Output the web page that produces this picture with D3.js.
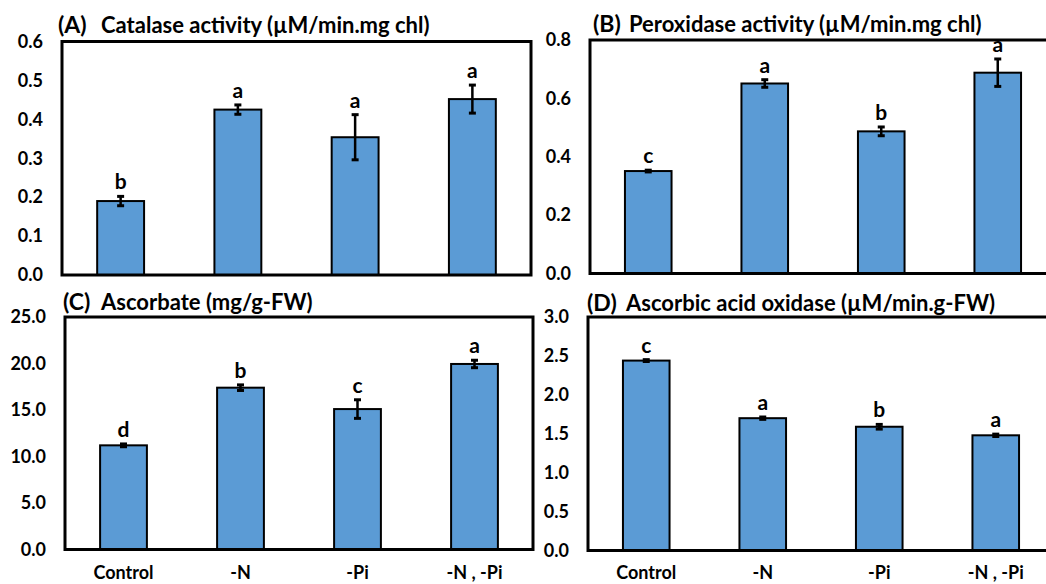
<!DOCTYPE html>
<html><head><meta charset="utf-8">
<script src="https://cdn.jsdelivr.net/npm/d3@7"></script>
<style>body{margin:0;background:#fff}svg{display:block}text{font-family:Lato,"Open Sans",sans-serif;font-weight:bold;fill:#000}</style>
</head><body><svg id="c" width="1046" height="584"></svg>
<script>
const categories = ["Control", "-N", "-Pi", "-N , -Pi"];

const catalase = [0.19, 0.425, 0.354, 0.452];
const catalaseErr = [0.012, 0.012, 0.058, 0.036];
const catalaseLetters = ["b", "a", "a", "a"];
const catalaseTicks = [0, 0.1, 0.2, 0.3, 0.4, 0.5, 0.6];

const peroxidase = [0.351, 0.651, 0.487, 0.688];
const peroxidaseErr = [0.003, 0.013, 0.015, 0.047];
const peroxidaseLetters = ["c", "a", "b", "a"];
const peroxidaseTicks = [0, 0.2, 0.4, 0.6, 0.8];

const ascorbate = [11.2, 17.4, 15.1, 19.95];
const ascorbateErr = [0.15, 0.3, 1.0, 0.4];
const ascorbateLetters = ["d", "b", "c", "a"];
const ascorbateTicks = [0, 5, 10, 15, 20, 25];

const aao = [2.44, 1.70, 1.59, 1.48];
const aaoErr = [0.012, 0.015, 0.03, 0.015];
const aaoLetters = ["c", "a", "b", "a"];
const aaoTicks = [0, 0.5, 1, 1.5, 2, 2.5, 3];

const panels = [
  {tag:"(A)", title:"Catalase activity (\u00b5M/min.mg chl)", vals:catalase, err:catalaseErr, letters:catalaseLetters, ticks:catalaseTicks, max:0.6,
   box:{x0:62,x1:531,y0:41.5,y1:275}, tagX:58, titleX:101, titleY:33, xLabels:false},
  {tag:"(B)", title:"Peroxidase activity (\u00b5M/min.mg chl)", vals:peroxidase, err:peroxidaseErr, letters:peroxidaseLetters, ticks:peroxidaseTicks, max:0.8,
   box:{x0:590,x1:1056,y0:40,y1:273.5}, tagX:593, titleX:629, titleY:32, xLabels:false},
  {tag:"(C)", title:"Ascorbate (mg/g-FW)", vals:ascorbate, err:ascorbateErr, letters:ascorbateLetters, ticks:ascorbateTicks, max:25,
   box:{x0:65,x1:533,y0:317,y1:549.5}, tagX:63, titleX:101, titleY:310, xLabels:true},
  {tag:"(D)", title:"Ascorbic acid oxidase (\u00b5M/min.g-FW)", vals:aao, err:aaoErr, letters:aaoLetters, ticks:aaoTicks, max:3,
   box:{x0:588,x1:1054,y0:317,y1:550.5}, tagX:587, titleX:626, titleY:310.5, xLabels:true}
];

const svg = d3.select("#c");
const fmt = d3.format(".1f");

panels.forEach(p => {
  const b = p.box;
  const x = d3.scaleBand().domain(categories).range([b.x0, b.x1]).paddingInner(0.6).paddingOuter(0.3);
  const y = d3.scaleLinear().domain([0, p.max]).range([b.y1, b.y0]);
  const g = svg.append("g");

  g.selectAll("rect.bar").data(p.vals).enter().append("rect")
    .attr("x", (d,i) => x(categories[i]))
    .attr("y", d => y(d))
    .attr("width", x.bandwidth())
    .attr("height", d => y(0) - y(d))
    .attr("fill", "#5B9BD5").attr("stroke", "#000").attr("stroke-width", 2);

  p.vals.forEach((v,i) => {
    const cx = x(categories[i]) + x.bandwidth()/2;
    const lo = y(v - p.err[i]), hi = y(v + p.err[i]);
    g.append("line").attr("x1",cx).attr("x2",cx).attr("y1",lo).attr("y2",hi).attr("stroke","#000").attr("stroke-width",2.5);
    [lo,hi].forEach(yy => g.append("line").attr("x1",cx-3.5).attr("x2",cx+3.5).attr("y1",yy).attr("y2",yy).attr("stroke","#000").attr("stroke-width",3));
    g.append("text").attr("x",cx).attr("y",hi-7).attr("text-anchor","middle").attr("font-size",21).text(p.letters[i]);
  });

  g.append("rect").attr("x",b.x0).attr("y",b.y0).attr("width",b.x1-b.x0).attr("height",b.y1-b.y0)
    .attr("fill","none").attr("stroke","#000").attr("stroke-width",3);

  const ax = g.append("g").attr("transform",`translate(${b.x0-19},0)`)
    .call(d3.axisLeft(y).tickValues(p.ticks).tickFormat(fmt).tickSize(0).tickPadding(0));
  ax.select(".domain").remove();
  ax.selectAll("text").attr("font-size",18).attr("font-family","Lato").attr("font-weight","bold").attr("fill","#000");

  g.append("text").attr("x",p.tagX).attr("y",p.titleY).attr("font-size",23).text(p.tag);
  g.append("text").attr("x",p.titleX).attr("y",p.titleY).attr("font-size",22).text(p.title);

  if (p.xLabels) {
    categories.forEach(c => {
      g.append("text").attr("x", x(c) + x.bandwidth()/2).attr("y", 579).attr("text-anchor","middle").attr("font-size",18).text(c);
    });
  }
});
</script></body></html>
